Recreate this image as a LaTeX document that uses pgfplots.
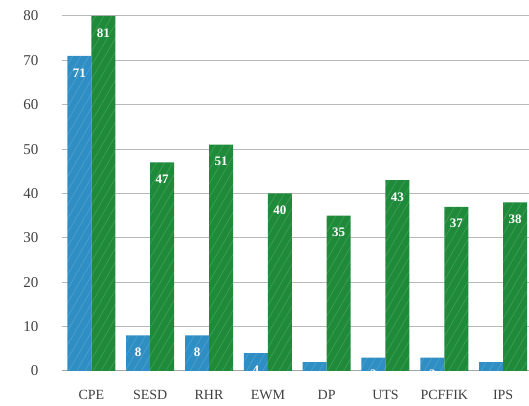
\documentclass[border=0pt]{standalone}
\usepackage{fontspec}
\setmainfont{Liberation Serif}
\usepackage{pgfplots}
\pgfplotsset{compat=1.18}
\usetikzlibrary{patterns.meta}
\definecolor{cblue}{HTML}{2F8FC4}
\definecolor{cgreen}{HTML}{1F8B3A}
\tikzset{hatch/.style={postaction={opacity=0.14, pattern={Lines[angle=60, distance=7pt, line width=0.7pt]}, pattern color=white}}}
\begin{document}
\begin{tikzpicture}
\begin{axis}[
  at={(0,0)}, anchor=south west,
  scale only axis,
  width=467pt, height=355pt,
  ybar=0pt, bar width=24pt,
  xmin=-0.5, xmax=7.44,
  ymin=0, ymax=80,
  xtick={0,...,7},
  xticklabels={CPE,SESD,RHR,EWM,DP,UTS,PCFFIK,IPS},
  ytick={0,10,...,80},
  axis x line*=bottom, axis y line*=left,
  x axis line style={gray!70, line width=1pt, -},
  y axis line style={draw=none},
  ymajorgrids, grid style={gray!55, line width=1pt},
  major tick length=0pt,
  clip=true, clip mode=individual,
  /pgf/number format/assume math mode=true,
  xticklabel style={font=\fontsize{14}{15}\selectfont, text=black!75, yshift=-16pt},
  yticklabel style={font=\fontsize{15}{16}\selectfont, text=black!75, xshift=-20pt},
  nodes near coords,
  every node near coord/.append style={font=\bfseries\fontsize{13}{14}\selectfont, text=white, anchor=north, yshift=-9pt},
]
\addplot[fill=cblue, draw=none, hatch] coordinates {(0,71) (1,8) (2,8) (3,4) (4,2) (5,3) (6,3) (7,2)};
\addplot[fill=cgreen, draw=none, hatch, point meta=explicit symbolic] coordinates {(0,80)[81] (1,47)[47] (2,51)[51] (3,40)[40] (4,35)[35] (5,43)[43] (6,37)[37] (7,38)[38]};
\end{axis}
\pgfresetboundingbox
\path[use as bounding box] (-62pt,-35pt) rectangle (467pt,371pt);
\end{tikzpicture}
\end{document}
